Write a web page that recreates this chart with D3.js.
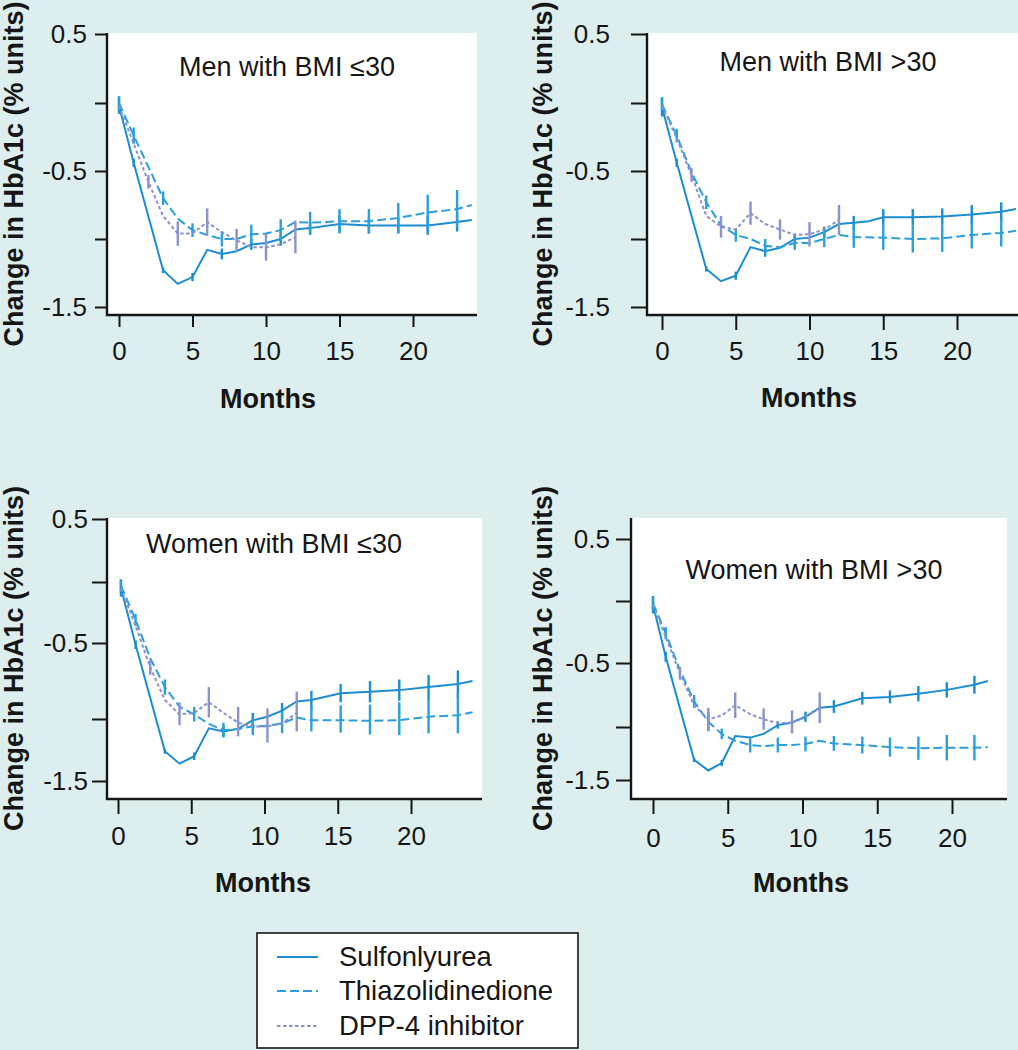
<!DOCTYPE html>
<html>
<head>
<meta charset="utf-8">
<script src="https://cdn.jsdelivr.net/npm/d3@7"></script>
<style>
  body { margin: 0; background: #dcefee; }
  svg { display: block; font-family: "Liberation Sans", Arial, sans-serif; }
</style>
</head>
<body>
<div id="chart"></div>
<script>
// ---- data ----
var seriesNames = ["Sulfonlyurea", "Thiazolidinedione", "DPP-4 inhibitor"]
var panelTitles = ["Men with BMI \u226430", "Men with BMI >30", "Women with BMI \u226430", "Women with BMI >30"]
var xTickVals = [0, 5, 10, 15, 20]
var yTickVals = [0.5, 0, -0.5, -1, -1.5]
var yTickLabels = ["0.5", "", "-0.5", "", "-1.5"]

// men, BMI <= 30
var p1_su_month = [0,1,3,4,5,6,7,8,9,10,11,12,13,15,17,19,21,23,24]
var p1_su_value = [-0.02,-0.44,-1.23,-1.33,-1.28,-1.08,-1.11,-1.09,-1.04,-1.03,-1.0,-0.93,-0.92,-0.89,-0.90,-0.90,-0.90,-0.875,-0.86]
var p1_su_err   = [0.06,0.03,0.02,0,0.03,0,0.04,0,0.04,0,0.05,0,0.05,0.06,0.06,0.06,0.07,0.07,0]
var p1_tzd_month = [0,1,2,3,4,5,6,7,8,9,10,11,12,13,15,17,19,21,23,24]
var p1_tzd_value = [0.0,-0.24,-0.47,-0.70,-0.85,-0.935,-0.97,-1.0,-1.0,-0.965,-0.96,-0.935,-0.875,-0.88,-0.87,-0.87,-0.845,-0.805,-0.78,-0.75]
var p1_tzd_err   = [0.05,0.06,0,0.05,0,0.05,0,0.055,0,0.07,0,0.08,0,0.08,0.09,0.09,0.11,0.13,0.14,0]
var p1_dpp_month = [0,1,2,3,4,5,6,7,8,9,10,11,12]
var p1_dpp_value = [-0.02,-0.30,-0.58,-0.83,-0.96,-0.96,-0.875,-0.95,-1.01,-1.06,-1.06,-1.04,-0.985]
var p1_dpp_err   = [0,0,0.05,0,0.09,0,0.1,0,0.085,0,0.1,0,0.12]

// men, BMI > 30
var p2_su_month = [0,1,3,4,5,6,7,8,9,10,11,12,13,14,15,17,19,21,23,24]
var p2_su_value = [-0.03,-0.44,-1.22,-1.31,-1.27,-1.06,-1.09,-1.065,-1.0,-0.99,-0.95,-0.89,-0.88,-0.87,-0.84,-0.84,-0.835,-0.82,-0.80,-0.78]
var p2_su_err   = [0.07,0.03,0.02,0,0.03,0,0.04,0,0.04,0,0.04,0,0.05,0,0.06,0.06,0.06,0.07,0.07,0]
var p2_tzd_month = [0,1,2,3,4,5,6,7,8,9,10,11,12,13,15,17,19,21,23,24]
var p2_tzd_value = [-0.01,-0.24,-0.51,-0.73,-0.90,-0.97,-1.0,-1.05,-1.06,-1.03,-1.03,-1.0,-0.97,-0.985,-0.99,-1.0,-0.995,-0.97,-0.955,-0.94]
var p2_tzd_err   = [0.05,0.05,0,0.05,0,0.05,0,0.05,0,0.05,0,0.06,0,0.08,0.09,0.1,0.1,0.1,0.1,0]
var p2_dpp_month = [0,1,2,3,4,5,6,7,8,9,10,11,12]
var p2_dpp_value = [-0.02,-0.26,-0.53,-0.83,-0.91,-0.93,-0.81,-0.89,-0.93,-0.97,-0.965,-0.93,-0.86]
var p2_dpp_err   = [0,0,0.05,0,0.08,0,0.085,0,0.075,0,0.09,0,0.11]

// women, BMI <= 30
var p3_su_month = [0.2,1.2,3.2,4.2,5.2,6.2,7.2,8.2,9.2,10.2,11.2,12.2,13.2,15.2,17.2,19.2,21.2,23.2,24.2]
var p3_su_value = [-0.05,-0.51,-1.26,-1.36,-1.30,-1.075,-1.10,-1.08,-1.01,-0.985,-0.945,-0.885,-0.875,-0.83,-0.82,-0.81,-0.79,-0.77,-0.75]
var p3_su_err   = [0.07,0.03,0.02,0,0.03,0,0.04,0,0.05,0,0.05,0,0.06,0.06,0.07,0.07,0.08,0.09,0]
var p3_tzd_month = [0.2,1.2,2.2,3.2,4.2,5.2,6.2,7.2,8.2,9.2,10.2,11.2,12.2,13.2,15.2,17.2,19.2,21.2,23.2,24.2]
var p3_tzd_value = [-0.03,-0.31,-0.60,-0.79,-0.92,-0.97,-1.04,-1.09,-1.08,-1.06,-1.055,-1.035,-0.99,-1.01,-1.01,-1.015,-1.01,-0.985,-0.975,-0.955]
var p3_tzd_err   = [0.05,0.05,0,0.05,0,0.05,0,0.06,0,0.07,0,0.08,0,0.09,0.1,0.11,0.12,0.13,0.14,0]
var p3_dpp_month = [0.2,1.2,2.2,3.2,4.2,5.2,6.2,7.2,8.2,9.2,10.2,11.2,12.2]
var p3_dpp_value = [-0.05,-0.36,-0.66,-0.875,-0.97,-0.96,-0.89,-0.96,-1.03,-1.06,-1.06,-1.035,-0.96]
var p3_dpp_err   = [0,0,0.05,0,0.08,0,0.1,0,0.11,0,0.13,0,0.14]

// women, BMI > 30
var p4_su_month = [0,0.85,2.75,3.7,4.6,5.5,6.5,7.4,8.35,9.3,10.2,11.15,12.1,14.0,15.85,17.75,19.65,21.5,22.4]
var p4_su_value = [-0.03,-0.45,-1.31,-1.41,-1.34,-1.085,-1.10,-1.065,-0.985,-0.965,-0.92,-0.85,-0.84,-0.775,-0.765,-0.74,-0.71,-0.67,-0.64]
var p4_su_err   = [0.07,0.04,0.02,0,0.03,0,0,0,0.03,0,0.04,0,0.05,0.05,0.05,0.06,0.06,0.07,0]
var p4_tzd_month = [0,0.85,1.8,2.75,3.7,4.6,5.5,6.5,7.4,8.35,9.3,10.2,11.15,12.1,14.0,15.85,17.75,19.65,21.5,22.4]
var p4_tzd_value = [-0.02,-0.26,-0.555,-0.80,-0.96,-1.065,-1.13,-1.17,-1.18,-1.17,-1.17,-1.16,-1.13,-1.155,-1.17,-1.19,-1.20,-1.195,-1.195,-1.19]
var p4_tzd_err   = [0.05,0.05,0,0.05,0.08,0.05,0,0.07,0,0.07,0,0.07,0,0.07,0.08,0.09,0.11,0.12,0.12,0]
var p4_dpp_month = [0,0.85,1.8,2.75,3.7,4.6,5.5,6.5,7.4,8.35,9.3,10.2,11.15]
var p4_dpp_value = [-0.03,-0.29,-0.58,-0.83,-0.94,-0.91,-0.83,-0.90,-0.94,-0.97,-0.965,-0.92,-0.85]
var p4_dpp_err   = [0,0,0.05,0,0.09,0,0.1,0,0.085,0,0.095,0,0.12]

// ---- styles ----
const W = 1018, H = 1050
const BG = "#dcefee"
const INK = "#161616"
const COLORS = ["#1b8dd2", "#2a9fdb", "#8a93cc"]
const DASHES = [null, "9,4", "3.5,2.5"]

function pack(m, v, e) { return m.map((d, i) => ({ m: d, v: v[i], e: e[i] })) }

const panels = [
  { left: 107, top: 33, right: 477, bottom: 315, x0: 119, x20: 413, yPx: [34, 103, 171, 239, 307],
    yTick: 12, yPad: 8, xTick: 12, xPad: 15, titleX: 287, titleY: 76, yTitleX: 23, monthsX: 268, monthsY: 408,
    series: [pack(p1_su_month, p1_su_value, p1_su_err), pack(p1_tzd_month, p1_tzd_value, p1_tzd_err), pack(p1_dpp_month, p1_dpp_value, p1_dpp_err)] },
  { left: 647, top: 33, right: 1018, bottom: 315, x0: 662, x20: 957, yPx: [34, 103, 171, 239, 307],
    yTick: 16, yPad: 21, xTick: 15, xPad: 12, titleX: 828, titleY: 71, yTitleX: 552, monthsX: 809, monthsY: 407,
    series: [pack(p2_su_month, p2_su_value, p2_su_err), pack(p2_tzd_month, p2_tzd_value, p2_tzd_err), pack(p2_dpp_month, p2_dpp_value, p2_dpp_err)] },
  { left: 107, top: 518, right: 482, bottom: 799, x0: 118, x20: 411, yPx: [519, 582, 643, 719, 781],
    yTick: 15, yPad: 4, xTick: 15, xPad: 13, titleX: 274, titleY: 553, yTitleX: 23, monthsX: 263, monthsY: 892,
    series: [pack(p3_su_month, p3_su_value, p3_su_err), pack(p3_tzd_month, p3_tzd_value, p3_tzd_err), pack(p3_dpp_month, p3_dpp_value, p3_dpp_err)] },
  { left: 631, top: 518, right: 1007, bottom: 799, x0: 653, x20: 952, yPx: [539, 601, 663, 727, 780],
    yTick: 15, yPad: 6, xTick: 15, xPad: 15, titleX: 814, titleY: 579, yTitleX: 552, monthsX: 801, monthsY: 892,
    series: [pack(p4_su_month, p4_su_value, p4_su_err), pack(p4_tzd_month, p4_tzd_value, p4_tzd_err), pack(p4_dpp_month, p4_dpp_value, p4_dpp_err)] }
]

const svg = d3.select("#chart").append("svg")
    .attr("width", W)
    .attr("height", H)
svg.append("rect").attr("width", W).attr("height", H).attr("fill", BG)

panels.forEach((p, k) => {
    const g = svg.append("g")
    const x = d3.scaleLinear().domain([0, 20]).range([p.x0, p.x20])
    const y = d3.scaleLinear().domain(yTickVals).range(p.yPx)

    // white plotting area
    g.append("rect")
        .attr("x", p.left).attr("y", p.top)
        .attr("width", p.right - p.left).attr("height", p.bottom - p.top)
        .attr("fill", "#fff")

    // axes
    const yAxis = g.append("g")
        .attr("transform", "translate(" + p.left + ",0)")
        .call(d3.axisLeft(y).tickValues(yTickVals).tickSize(p.yTick).tickPadding(p.yPad)
            .tickFormat((d, i) => yTickLabels[i]))
    const xAxis = g.append("g")
        .attr("transform", "translate(0," + p.bottom + ")")
        .call(d3.axisBottom(x).tickValues(xTickVals).tickSize(p.xTick).tickPadding(p.xPad))
    ;[yAxis, xAxis].forEach(a => {
        a.select(".domain").remove()
        a.selectAll(".tick line").attr("stroke", INK).attr("stroke-width", 2)
        a.selectAll(".tick text").attr("fill", INK).style("font-size", "26px")
            .style("font-family", "'Liberation Sans', Arial, sans-serif")
    })
    // L-shaped frame
    g.append("path")
        .attr("d", "M" + p.left + "," + p.top + "V" + p.bottom + "H" + p.right)
        .attr("fill", "none").attr("stroke", INK).attr("stroke-width", 2.4)

    // series
    const line = d3.line().x(d => x(d.m)).y(d => y(d.v))
    p.series.forEach((s, i) => {
        g.append("path")
            .datum(s)
            .attr("d", line)
            .attr("fill", "none")
            .attr("stroke", COLORS[i])
            .attr("stroke-width", 2)
            .attr("stroke-dasharray", DASHES[i])
        g.selectAll(".err" + i)
            .data(s.filter(d => d.e > 0))
            .enter()
            .append("line")
            .attr("x1", d => x(d.m)).attr("x2", d => x(d.m))
            .attr("y1", d => y(d.v - d.e)).attr("y2", d => y(d.v + d.e))
            .attr("stroke", COLORS[i])
            .attr("stroke-width", 2.4)
    })

    // labels
    g.append("text")
        .attr("x", p.titleX).attr("y", p.titleY)
        .attr("text-anchor", "middle")
        .style("font-size", "27px").attr("fill", INK)
        .text(panelTitles[k])
    g.append("text")
        .attr("x", p.monthsX).attr("y", p.monthsY)
        .attr("text-anchor", "middle")
        .style("font-size", "27px").style("font-weight", "bold").attr("fill", INK)
        .text("Months")
    g.append("text")
        .attr("transform", "translate(" + p.yTitleX + "," + ((p.top + p.bottom) / 2) + ") rotate(-90)")
        .attr("text-anchor", "middle")
        .style("font-size", "27px").style("font-weight", "bold").attr("fill", INK)
        .text("Change in HbA1c (% units)")
})

// legend
const lg = svg.append("g")
lg.append("rect")
    .attr("x", 257).attr("y", 933).attr("width", 321).attr("height", 115)
    .attr("fill", "#fff").attr("stroke", INK).attr("stroke-width", 1.6)
const legendY = [957, 991, 1026]
seriesNames.forEach((name, i) => {
    lg.append("line")
        .attr("x1", 277).attr("x2", 318)
        .attr("y1", legendY[i]).attr("y2", legendY[i])
        .attr("stroke", COLORS[i]).attr("stroke-width", 2)
        .attr("stroke-dasharray", DASHES[i])
    lg.append("text")
        .attr("x", 339).attr("y", legendY[i] + 9)
        .style("font-size", "27.5px").attr("fill", INK)
        .text(name)
})
</script>
</body>
</html>
